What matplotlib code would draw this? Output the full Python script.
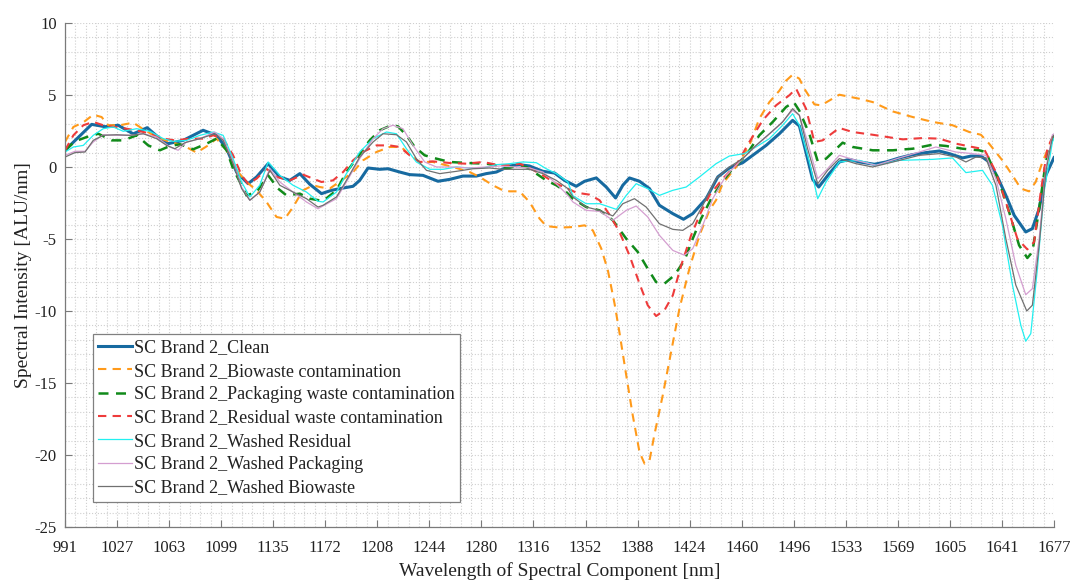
import numpy as np
import matplotlib
matplotlib.use("Agg")
import matplotlib.pyplot as plt
from matplotlib.ticker import FixedLocator

plt.rcParams['font.family'] = ['Liberation Serif', 'DejaVu Serif']
plt.rcParams['axes.unicode_minus'] = False

# spectra, wavelength [nm] / intensity [ALU/nm]
wl_clean = [991, 1009.5, 1018.7, 1027.9, 1038.3, 1048, 1056.8, 1062.6, 1073, 1086.8, 1096.1, 1103.1, 1110,
            1118, 1123.9, 1131.9, 1140, 1146.9, 1153.9, 1160.8, 1168.9, 1175.8, 1183.9, 1190.8, 1195.4, 1201.2,
            1209.3, 1215.1, 1223.2, 1230.1, 1239.3, 1249.7, 1257.8, 1267, 1276.3, 1283.2, 1290.2, 1299.4, 1306.3,
            1313.2, 1322.5, 1330.6, 1337.5, 1345.6, 1351.4, 1359.5, 1366.4, 1372.9, 1377.9, 1382.5, 1389.5, 1396.4,
            1403.3, 1412.6, 1420, 1426.4, 1435.7, 1443.8, 1451.8, 1461.1, 1468, 1477.3, 1486.5, 1495.7, 1500.4,
            1505, 1509.6, 1513.8, 1521.1, 1528.1, 1535, 1542, 1552.4, 1560.5, 1569.7, 1579, 1588.2, 1597.4, 1604.3,
            1613.6, 1619.4, 1626.3, 1632, 1637.8, 1643.6, 1649.4, 1657.4, 1662, 1666.7, 1671.3, 1677]
clean = [1.16, 2.96, 2.8, 2.9, 2.3, 2.73, 1.97, 1.62, 1.85, 2.55, 2.2, 1.27, -0.35,
         -1.16, -0.69, 0.23, -0.69, -0.93, -0.46, -1.2, -1.85, -1.62, -1.46, -1.34, -0.93, -0.07,
         -0.16, -0.12, -0.35, -0.53, -0.58, -0.99, -0.86, -0.63, -0.63, -0.46, -0.35, 0.07, 0.16,
         0.07, -0.3, -0.42, -0.93, -1.34, -0.99, -0.76, -1.39, -2.15, -1.27, -0.76, -0.99, -1.5,
         -2.66, -3.24, -3.63, -3.24, -2.2, -0.69, -0.07, 0.3, 0.81, 1.5, 2.31, 3.24, 2.85,
         1.0, -0.86, -1.39, -0.46, 0.35, 0.53, 0.35, 0.19, 0.35, 0.63, 0.86, 1.0, 1.11, 0.93,
         0.63, 0.76, 0.76, 0.35, -0.69, -1.97, -3.36, -4.51, -4.28, -2.9, -0.58, 0.65]

wl_bio = [991, 996.8, 1003.7, 1010.6, 1016.4, 1021, 1029.1, 1038.3, 1046.4, 1054.5, 1063.8, 1073, 1082.3,
          1090.3, 1096.1, 1103.1, 1110, 1116.9, 1123.9, 1130.8, 1137.7, 1143.5, 1149.2, 1156.1, 1163.1, 1167.7,
          1174.6, 1182.8, 1190.8, 1197.7, 1207, 1216.2, 1224.3, 1230.1, 1237, 1246.2, 1255.5, 1262.5, 1271.7,
          1278.6, 1287.8, 1294.7, 1299.4, 1306.3, 1313.2, 1320.2, 1324.8, 1334, 1343.3, 1351.4, 1357.1, 1363,
          1367.6, 1372.2, 1375.6, 1380.3, 1384.8, 1389.5, 1393, 1396.4, 1399.8, 1405.6, 1411.4, 1417.2, 1424.1,
          1431.1, 1438, 1442.6, 1447.2, 1456.5, 1465.7, 1472.6, 1479.6, 1486.5, 1491.2, 1495.7, 1500.4, 1503.8,
          1510.8, 1515.4, 1528.1, 1542, 1551.2, 1565.1, 1579, 1592.8, 1606.6, 1618.2, 1626.3, 1632, 1641.2,
          1648.2, 1654, 1659.7, 1664.3, 1669, 1674.8, 1677]
biowaste = [1.74, 2.78, 3.1, 3.63, 3.47, 2.9, 2.9, 3.08, 2.55, 2.08, 1.74, 1.5, 1.0,
            1.5, 1.97, 1.16, -0.23, -1.04, -1.62, -2.43, -3.47, -3.59, -2.78, -1.62, -1.27, -1.39,
            -1.5, -0.93, -0.35, 0.46, 1.04, 1.39, 1.39, 0.81, 0.35, 0.35, 0.12, -0.07, -0.35,
            -0.69, -1.27, -1.62, -1.69, -1.69, -2.43, -3.59, -4.1, -4.21, -4.17, -4.05, -4.4, -5.67,
            -7.2, -9.5, -11.5, -14.47, -17.24, -19.8, -20.6, -20.4, -18.6, -15.86, -12.85, -9.84, -7.06,
            -4.74, -3.0, -2.3, -1.16, 0.0, 1.5, 3.36, 4.51, 5.3, 6.0, 6.41, 6.13, 5.44,
            4.35, 4.28, 5.02, 4.74, 4.51, 3.86, 3.47, 3.13, 2.9, 2.43, 2.24, 1.62, 0.46,
            -0.58, -1.5, -1.69, -1.04, 0.35, 1.74, 2.2]

wl_pack = [991, 997.9, 1006, 1014.1, 1023.4, 1031.4, 1040.7, 1048.7, 1056.8, 1063.8, 1070.7, 1079.9, 1089.2,
           1096.1, 1103.1, 1107.6, 1113.5, 1116.9, 1123.9, 1131.9, 1138.8, 1144.6, 1153.9, 1160.8, 1170, 1179.3,
           1186.2, 1193.2, 1202.4, 1209.3, 1217.4, 1222, 1227.8, 1233.6, 1240.5, 1248.6, 1257.8, 1269.4, 1283.2,
           1290.2, 1297.1, 1304, 1311, 1317.9, 1324.8, 1331.8, 1338.7, 1343.3, 1352.5, 1361.8, 1371, 1380.3,
           1388.3, 1395.2, 1401, 1406.8, 1413.7, 1420.7, 1426.4, 1432.2, 1439.2, 1447.2, 1454.1, 1463.4, 1472.6,
           1481.9, 1491.2, 1496.5, 1500.4, 1507.3, 1513.1, 1518.9, 1530.4, 1537.3, 1551.2, 1565.1, 1579, 1592.8,
           1602.1, 1613.6, 1625.1, 1629.7, 1639, 1645.9, 1652.8, 1658.5, 1662, 1666.7, 1671.3, 1675.9, 1677]
packaging = [1.16, 1.78, 2.08, 2.31, 1.85, 1.85, 2.2, 1.5, 1.16, 1.46, 1.58, 1.23, 1.62,
             1.97, 1.16, -0.12, -1.27, -1.97, -1.74, -0.58, -1.5, -1.97, -1.85, -2.2, -2.36, -1.62,
             -0.35, 0.58, 1.85, 2.55, 2.9, 2.82, 2.2, 1.39, 0.81, 0.58, 0.35, 0.28, 0.23,
             0.12, -0.12, 0.07, 0.0, -0.46, -0.93, -1.27, -1.74, -2.2, -2.78, -3.01, -3.7, -4.98,
             -5.9, -7.06, -7.99, -8.1, -7.52, -6.48, -4.98, -3.59, -2.2, -0.99, -0.12, 0.81, 2.2,
             3.13, 4.17, 4.51, 3.9, 2.3, 0.4, 0.58, 1.69, 1.39, 1.16, 1.16, 1.27, 1.55,
             1.46, 1.27, 1.16, 1.04, -1.04, -3.13, -5.44, -6.32, -5.9, -2.9, 0.35, 1.97, 2.2]

wl_resid = [991, 996.8, 1003.7, 1010.6, 1017.5, 1025.7, 1033.8, 1043, 1051.1, 1059.1, 1067.2, 1077.6, 1086.8,
            1093.8, 1100.7, 1107.6, 1113.5, 1118, 1123.9, 1130.8, 1137.7, 1146.9, 1156.1, 1163.1, 1168.9, 1176.9,
            1183.9, 1190.8, 1197.7, 1207, 1216.2, 1223.2, 1230.1, 1237, 1246.2, 1257.8, 1269.4, 1280.9, 1290.2,
            1299.4, 1306.3, 1313.2, 1322.5, 1331.8, 1339.8, 1345.6, 1354.8, 1361.8, 1368.7, 1375.6, 1382.5, 1389.5,
            1395.2, 1401, 1406.8, 1412.6, 1418.4, 1425.3, 1431.1, 1438, 1447.2, 1456.5, 1465.7, 1474.9, 1484.2,
            1493.4, 1498.1, 1505, 1510.8, 1516.5, 1528.1, 1537.3, 1551.2, 1572, 1585.8, 1597.4, 1609, 1620.5,
            1628.6, 1636.7, 1643.6, 1651.6, 1658.5, 1663.2, 1667.8, 1672.4, 1675.9, 1677]
residual = [1.16, 2.2, 2.9, 3.13, 2.9, 2.78, 2.66, 2.48, 2.31, 1.97, 1.85, 1.97, 1.97,
            2.2, 1.97, 0.81, -0.58, -1.16, -0.81, -0.12, -0.69, -0.93, -0.53, -0.81, -1.04, -0.93,
            -0.35, 0.46, 1.04, 1.5, 1.5, 1.39, 0.81, 0.35, 0.39, 0.28, 0.23, 0.35, 0.16,
            0.12, 0.23, -0.07, -0.58, -1.16, -1.5, -1.78, -1.92, -2.31, -3.31, -4.51, -6.13, -8.1,
            -9.6, -10.35, -9.95, -8.91, -6.83, -4.74, -3.36, -1.97, -0.81, 0.12, 1.74, 3.24, 4.28,
            4.98, 5.44, 4.05, 1.74, 1.85, 2.71, 2.43, 2.24, 1.92, 2.01, 1.97, 1.62, 1.39,
            1.23, -0.35, -2.43, -4.98, -5.72, -5.21, -1.74, 1.27, 2.08, 2.2]

wl_w_resid = [991, 996.8, 1003.7, 1010.6, 1017.5, 1024.5, 1031.4, 1040.7, 1049.9, 1059.1, 1066.1, 1075.3, 1084.6,
              1093.8, 1100.7, 1107.6, 1113.5, 1119.2, 1126.1, 1131.9, 1140, 1149.2, 1158.5, 1166.5, 1170, 1179.3,
              1186.2, 1195.4, 1204.7, 1214, 1220.9, 1227.8, 1234.7, 1244, 1253.2, 1262.5, 1271.7, 1280.9, 1290.2,
              1299.4, 1308.6, 1317.9, 1324.8, 1331.8, 1339.8, 1343.3, 1352.5, 1361.8, 1373.4, 1380.3, 1387.2, 1395.2,
              1403.3, 1412.6, 1421.9, 1431.1, 1442.6, 1451.8, 1462.2, 1470.3, 1479.6, 1488.8, 1495.7, 1500.4, 1507.3,
              1513.1, 1518.9, 1528.1, 1542, 1553.6, 1569.7, 1592.8, 1606.6, 1615.9, 1627.4, 1634.3, 1641.2, 1648.2,
              1654, 1657.4, 1660.9, 1665.5, 1670.1, 1675.9, 1677]
washed_residual = [1.04, 1.39, 1.5, 2.2, 2.66, 2.78, 2.48, 2.66, 2.48, 1.97, 1.78, 1.85, 2.2,
                   2.43, 2.2, 0.58, -1.04, -2.08, -1.27, 0.35, -0.58, -1.27, -1.74, -2.38, -2.43, -1.74,
                   -0.46, 1.04, 1.97, 2.43, 2.31, 1.27, 0.35, -0.16, -0.16, 0.0, -0.07, -0.07, 0.16,
                   0.23, 0.35, 0.3, -0.12, -0.46, -1.04, -2.0, -2.55, -2.55, -2.94, -1.97, -1.16, -1.5,
                   -1.97, -1.62, -1.39, -0.69, 0.23, 0.76, 0.93, 1.39, 1.97, 2.9, 3.7, 2.9, 0.35,
                   -2.2, -1.04, 0.35, 0.46, 0.12, 0.46, 0.53, 0.63, -0.39, -0.23, -1.27, -4.05, -8.2,
                   -11.0, -12.1, -11.57, -7.06, -1.74, 1.74, 2.0]

wl_w_pack = [991, 997.9, 1004.9, 1010.6, 1017.5, 1026.8, 1036, 1045.3, 1054.5, 1063.8, 1069.5, 1075.3, 1084.6,
             1094.9, 1100.7, 1107.6, 1113.5, 1119.2, 1126.1, 1133.1, 1140, 1149.2, 1158.5, 1166.5, 1170, 1179.3,
             1186.2, 1195.4, 1204.7, 1211.6, 1218.5, 1225.4, 1232.4, 1240.5, 1248.6, 1260.1, 1271.7, 1283.2, 1292.5,
             1304, 1313.2, 1322.5, 1331.8, 1339.8, 1343.3, 1352.5, 1361.8, 1371, 1380.3, 1387.2, 1395.2, 1403.3,
             1412.6, 1420.7, 1426.4, 1433.4, 1440.3, 1449.6, 1458.8, 1468, 1477.3, 1486.5, 1495.7, 1500.4, 1506.1,
             1513.1, 1518.9, 1528.1, 1539.7, 1553.6, 1569.7, 1583.5, 1595.1, 1609, 1620.5, 1629.7, 1636.7, 1643.6,
             1650.5, 1657.4, 1662, 1666.7, 1671.3, 1675.9, 1677]
washed_packaging = [0.81, 1.09, 1.09, 1.74, 2.24, 2.2, 2.2, 2.31, 2.08, 1.39, 1.16, 1.74, 1.97,
                    2.43, 1.97, 0.35, -1.39, -2.31, -1.74, -0.12, -1.04, -1.74, -2.43, -2.9, -2.7, -2.2,
                    -1.04, 0.58, 1.97, 2.66, 2.9, 2.66, 1.5, 0.35, 0.0, 0.0, -0.07, 0.0, 0.07,
                    0.0, -0.07, -0.35, -1.16, -1.97, -2.43, -3.01, -3.08, -3.7, -3.01, -2.71, -3.47, -4.74,
                    -5.79, -6.13, -5.67, -4.05, -2.2, -0.58, 0.35, 1.27, 2.08, 2.9, 3.94, 3.59, 1.74,
                    -0.81, -0.23, 0.81, 0.46, 0.12, 0.63, 1.04, 1.39, 1.04, 0.93, 0.81, -0.81, -3.59,
                    -6.83, -8.87, -8.45, -4.98, -0.12, 2.24, 2.3]

wl_w_bio = [991, 997.9, 1004.9, 1010.6, 1017.5, 1026.8, 1036, 1045.3, 1054.5, 1061.5, 1067.2, 1074.2, 1084.6,
            1094.9, 1100.7, 1107.6, 1113.5, 1119.2, 1126.1, 1133.1, 1140, 1149.2, 1158.5, 1166.5, 1170, 1179.3,
            1186.2, 1195.4, 1204.7, 1211.6, 1220.9, 1227.8, 1234.7, 1241.7, 1250.9, 1262.5, 1274, 1285.5, 1294.7,
            1313.2, 1322.5, 1331.8, 1339.8, 1343.3, 1352.5, 1361.8, 1371, 1377.9, 1386, 1394.1, 1403.3, 1412.6,
            1419.5, 1426.4, 1433.4, 1442.6, 1451.8, 1461.1, 1470.3, 1479.6, 1488.8, 1495.7, 1500.4, 1506.1, 1513.1,
            1520, 1528.1, 1539.7, 1551.2, 1569.7, 1583.5, 1597.4, 1609, 1615.9, 1622.8, 1629.7, 1636.7, 1643.6,
            1650.5, 1658.1, 1662, 1666.7, 1671.3, 1675.9, 1677]
washed_biowaste = [0.69, 1.0, 1.04, 1.85, 2.2, 2.24, 2.2, 2.31, 1.97, 1.5, 1.27, 1.69, 1.97,
                   2.31, 1.85, 0.23, -1.5, -2.31, -1.74, -0.23, -1.27, -1.74, -2.2, -2.78, -2.66, -2.08,
                   -0.93, 0.69, 1.74, 2.31, 2.24, 1.74, 0.58, -0.23, -0.46, -0.3, -0.12, -0.07, -0.16,
                   -0.16, -0.46, -0.93, -1.5, -2.08, -2.78, -3.01, -3.4, -2.55, -2.2, -2.78, -3.94, -4.33,
                   -4.4, -3.94, -2.66, -0.81, 0.0, 0.58, 1.5, 2.31, 3.13, 4.05, 3.59, 1.27, -1.16,
                   -0.23, 0.58, 0.23, 0.0, 0.46, 0.81, 0.93, 0.69, 0.35, 0.69, 0.63, -1.27, -4.98,
                   -8.2, -10.0, -9.6, -5.44, -0.35, 2.08, 2.2]

xtick_labels = ['991', '1027', '1063', '1099', '1135', '1172', '1208', '1244', '1280', '1316',
                '1352', '1388', '1424', '1460', '1496', '1533', '1569', '1605', '1641', '1677']

series = [
    (wl_clean, clean, 'SC Brand 2_Clean', dict(color='#176aa0', lw=2.2, ls='-')),
    (wl_bio, biowaste, 'SC Brand 2_Biowaste contamination', dict(color='#ff9a1a', lw=1.5, ls=(0, (4, 3)))),
    (wl_pack, packaging, 'SC Brand 2_Packaging waste contamination', dict(color='#118a1a', lw=1.8, ls=(0, (4, 3)))),
    (wl_resid, residual, 'SC Brand 2_Residual waste contamination', dict(color='#ee3b3b', lw=1.5, ls=(0, (4, 3)))),
    (wl_w_resid, washed_residual, 'SC Brand 2_Washed Residual', dict(color='#22f0f0', lw=0.9, ls='-')),
    (wl_w_pack, washed_packaging, 'SC Brand 2_Washed Packaging', dict(color='#d49ed0', lw=0.9, ls='-')),
    (wl_w_bio, washed_biowaste, 'SC Brand 2_Washed Biowaste', dict(color='#707070', lw=0.9, ls='-')),
]

fig = plt.figure(figsize=(10.71, 5.8), dpi=100)
ax = fig.add_axes([65 / 1071, 53 / 580, 989 / 1071, 504 / 580])

for wl, vals, name, style in series:
    ax.plot(wl, vals, label=name, **style)

ax.set_xlim(991, 1677)
ax.set_ylim(-25, 10)
xt = np.linspace(991, 1677, len(xtick_labels))
ax.set_xticks(xt)
ax.set_xticklabels(xtick_labels)
ax.set_yticks(np.arange(-25, 11, 5))
ax.xaxis.set_minor_locator(FixedLocator(np.linspace(991, 1677, 5 * (len(xtick_labels) - 1) + 1)))
ax.yaxis.set_minor_locator(FixedLocator(np.arange(-25, 11, 1)))

ax.grid(True, which='both', ls=':', lw=0.8, color='#cfcfcf')
ax.set_axisbelow(True)
ax.tick_params(which='major', direction='in', length=5, width=0.8, color='#7a7a7a',
               labelsize=12, labelcolor='#222222')
ax.tick_params(axis='x', which='major', pad=9)
ax.tick_params(axis='y', which='major', pad=6)
ax.tick_params(which='minor', length=0)
for side in ['top', 'right']:
    ax.spines[side].set_visible(False)
for side in ['left', 'bottom']:
    ax.spines[side].set_color('#7a7a7a')
    ax.spines[side].set_linewidth(0.9)

ax.set_xlabel('Wavelength of Spectral Component [nm]', fontsize=14, color='#222222', labelpad=5)
ax.set_ylabel('Spectral Intensity [ALU/nm]', fontsize=14, color='#222222', labelpad=2)

leg = ax.legend(loc='lower left', bbox_to_anchor=(0.028, 0.05), fontsize=13, frameon=True,
                fancybox=False, handlelength=1.85, handletextpad=0.15, labelspacing=0.35,
                borderpad=0.3, borderaxespad=0)
leg.get_frame().set_edgecolor('#808080')
leg.get_frame().set_linewidth(0.9)
leg.get_frame().set_alpha(1)
for t in leg.get_texts():
    t.set_color('#222222')

fig.savefig('out.png', dpi=100)
